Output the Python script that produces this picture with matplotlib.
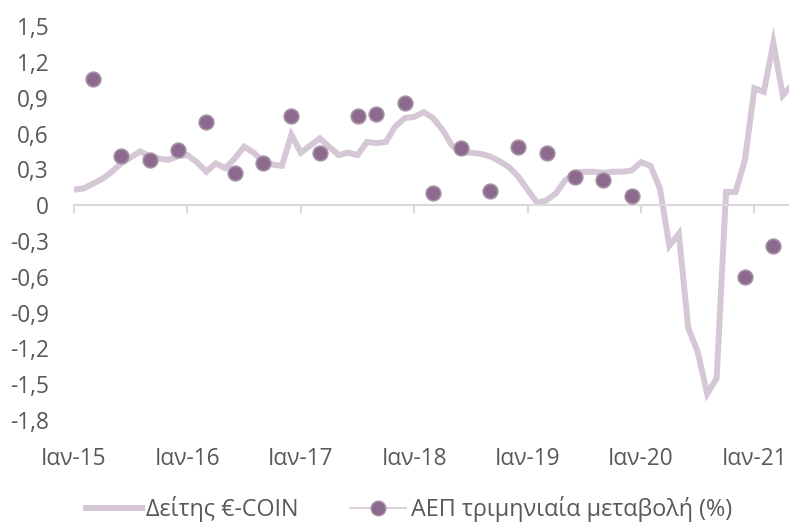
import numpy as np
import matplotlib.pyplot as plt
from matplotlib.lines import Line2D
from matplotlib.ticker import FuncFormatter
from matplotlib.transforms import blended_transform_factory

plt.rcParams['font.family'] = ['Open Sans', 'DejaVu Sans']

# monthly index, Jan 2015 = 0
coin_months = np.arange(77)
coin_values = [
    0.13, 0.14, 0.18, 0.22, 0.28, 0.35, 0.40, 0.45, 0.41, 0.39, 0.38, 0.41,
    0.42, 0.36, 0.28, 0.35, 0.31, 0.39, 0.49, 0.44, 0.37, 0.34, 0.33, 0.59,
    0.44, 0.50, 0.56, 0.49, 0.42, 0.44, 0.42, 0.53, 0.52, 0.53, 0.66, 0.73,
    0.74, 0.78, 0.73, 0.63, 0.50, 0.44, 0.44, 0.43, 0.41, 0.37, 0.32, 0.24,
    0.13, 0.02, 0.04, 0.10, 0.21, 0.27, 0.28, 0.28, 0.27, 0.28, 0.28, 0.29,
    0.36, 0.33, 0.14, -0.34, -0.24, -1.03, -1.23, -1.58, -1.45, 0.11, 0.11, 0.38,
    0.98, 0.95, 1.36, 0.92, 1.01,
]

gdp_months = [2, 5, 8, 11, 14, 17, 20, 23, 26, 30, 32, 35, 38, 41, 44, 47,
              50, 53, 56, 59, 71, 74]
gdp_values = [1.06, 0.41, 0.38, 0.46, 0.70, 0.27, 0.35, 0.75, 0.44, 0.75, 0.76, 0.86,
              0.10, 0.48, 0.12, 0.49, 0.44, 0.24, 0.21, 0.08, -0.60, -0.34]

year_ticks = [0, 12, 24, 36, 48, 60, 72]
year_labels = ['Ιαν-15', 'Ιαν-16', 'Ιαν-17', 'Ιαν-18', 'Ιαν-19', 'Ιαν-20', 'Ιαν-21']

line_col = '#D5C7D5'
dot_col = '#8C6A8D'
text_col = '#595959'
fs = 16.3

fig = plt.figure(figsize=(7.89, 5.23), dpi=100)
ax = fig.add_axes([0.0938, 0.197, 0.9062, 0.753])

ax.plot(coin_months, coin_values, color=line_col, lw=4.3, solid_joinstyle='miter', zorder=2)
ax.plot(gdp_months, gdp_values, 'o', ms=10.5, color=dot_col, mec='#A58FA6', mew=1.2, zorder=3)

ax.set_xlim(0, 75.66)
ax.set_ylim(-1.8, 1.5)
ax.set_yticks(np.arange(-1.8, 1.51, 0.3))
ax.yaxis.set_major_formatter(FuncFormatter(lambda v, p: '0' if abs(v) < 1e-9 else f'{v:.1f}'.replace('.', ',')))
ax.tick_params(axis='y', length=0, pad=18, labelsize=fs, labelcolor=text_col)

for s in ['top', 'right', 'left']:
    ax.spines[s].set_visible(False)
ax.spines['bottom'].set_position(('data', 0))
ax.spines['bottom'].set_color('#D9D9D9')
ax.spines['bottom'].set_linewidth(1.5)
ax.set_xticks(year_ticks)
ax.set_xticklabels([])
ax.tick_params(axis='x', direction='out', length=6, width=1.5, color='#D9D9D9')

trans = blended_transform_factory(ax.transData, ax.transAxes)
for m, lab in zip(year_ticks, year_labels):
    ax.text(m, -0.1, lab, transform=trans, ha='center', va='center',
            fontsize=fs, color=text_col)

handles = [
    Line2D([], [], color=line_col, lw=4.3),
    Line2D([], [], color=line_col, lw=1.2, marker='o', ms=10.5, mfc=dot_col, mec='#A58FA6'),
]
fig.legend(handles, ['Δείτης €-COIN', 'ΑΕΠ τριμηνιαία μεταβολή (%)'],
           loc='center', bbox_to_anchor=(0.518, 0.026), ncol=2, frameon=False,
           fontsize=16.8, labelcolor=text_col, handlelength=2.4, handletextpad=0.2,
           columnspacing=2.2, borderpad=0)

fig.savefig('out.png', dpi=100)
